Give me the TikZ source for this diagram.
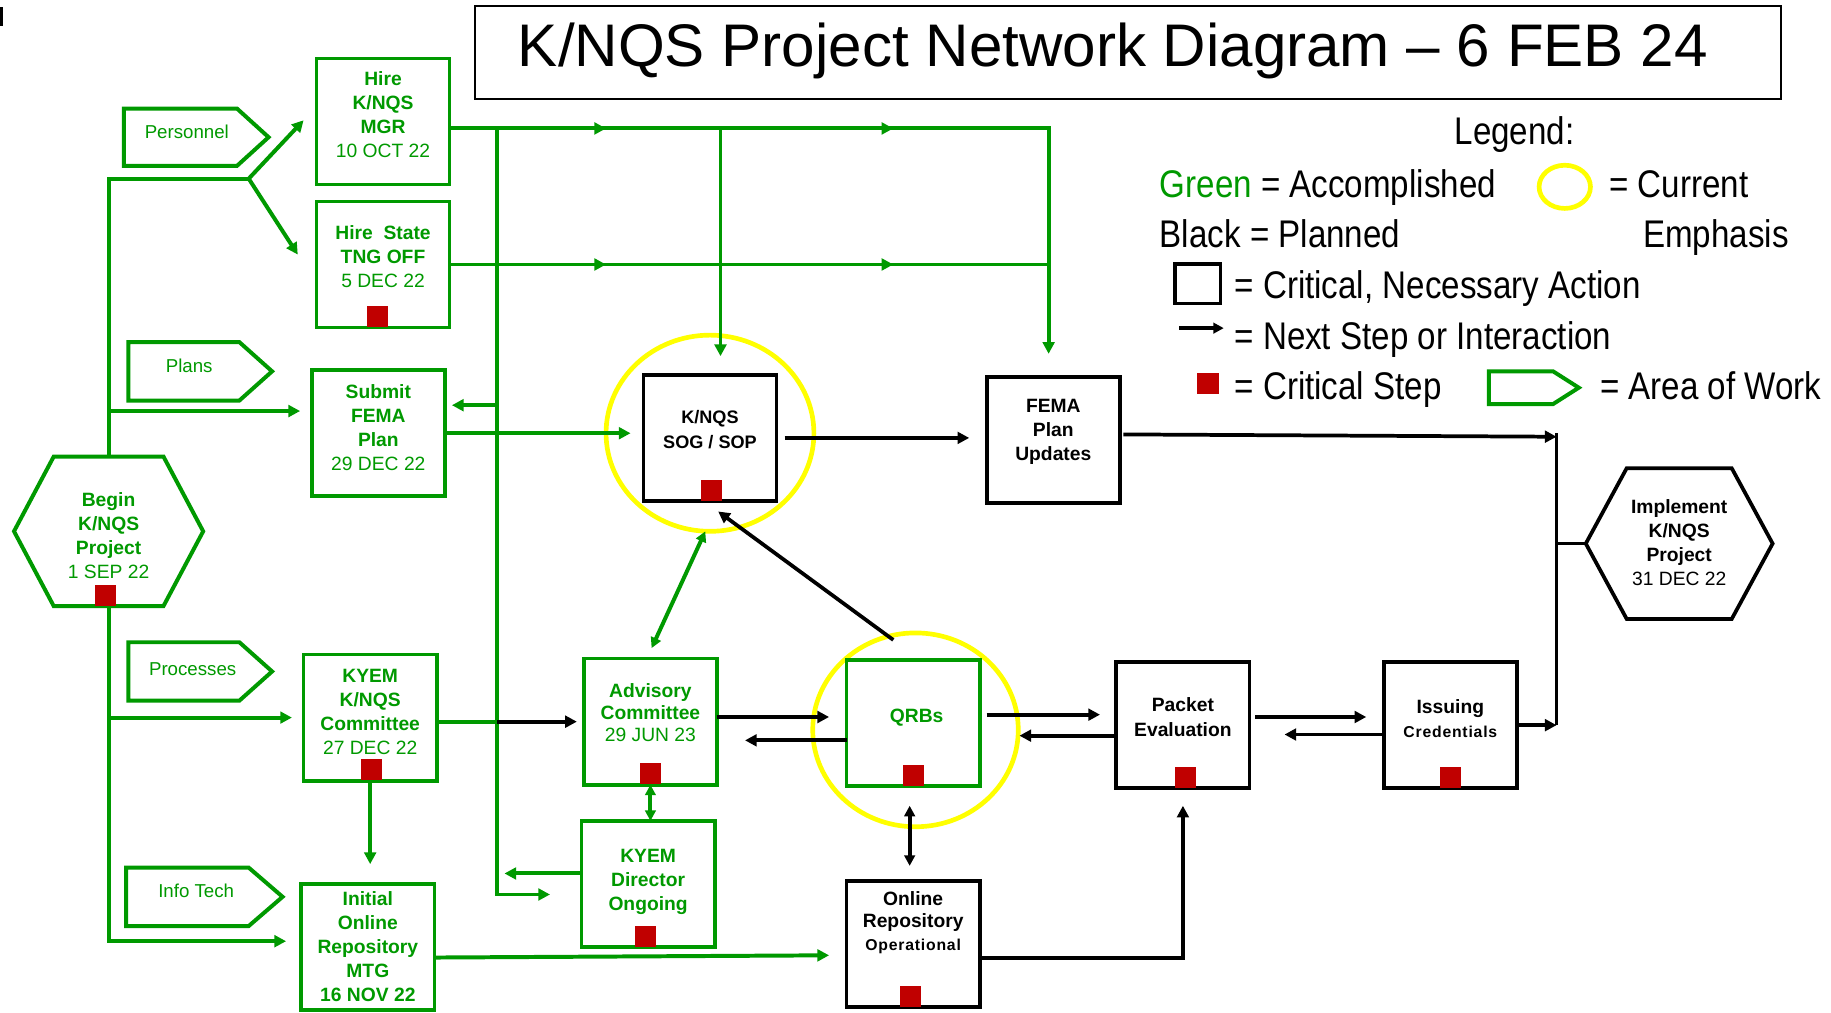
\documentclass[tikz,border=0pt]{standalone}
\usepackage{fontspec}
\setmainfont{Liberation Sans}
\newfontfamily\legfont[FakeStretch=0.86]{Liberation Sans}
\usetikzlibrary{arrows.meta,calc,shapes.geometric,decorations.markings}
\definecolor{gr}{RGB}{0,153,0}
\definecolor{rd}{RGB}{192,0,0}
\definecolor{yl}{RGB}{255,255,0}
\newcommand\pentpath[2]{\draw[gl] (#1.north west) -- ([xshift=-#2pt]#1.north east) -- (#1.east) -- ([xshift=-#2pt]#1.south east) -- (#1.south west) -- cycle;}
\newcommand\hexpath[3]{\draw[#3] (#1.west) -- ([xshift=#2pt]#1.north west) -- ([xshift=-#2pt]#1.north east) -- (#1.east) -- ([xshift=-#2pt]#1.south east) -- ([xshift=#2pt]#1.south west) -- cycle;}
\begin{document}
\begin{tikzpicture}[x=1pt,y=-1pt,
  gl/.style={gr,line width=3.4pt},
  bl/.style={black,line width=3.2pt},
  tip/.style={-{Triangle[length=10pt,width=10pt]}},
  dtip/.style={{Triangle[length=9pt,width=9pt]}-{Triangle[length=9pt,width=9pt]}},
  box/.style={line width=3.2pt,minimum width=114pt,minimum height=108pt,inner sep=0pt,outer sep=0pt},
  gbox/.style={box,draw=gr},
  bbox/.style={box,draw=black},
  crit/.style={fill=rd,minimum width=18pt,minimum height=18pt,inner sep=0pt,anchor=south},
  btxt/.style={align=center,inner sep=0pt,font=\fontsize{16.5}{20.5}\selectfont\bfseries},
  gtxt/.style={btxt,text=gr},
  atxt/.style={inner sep=0pt,text=gr,font=\fontsize{16}{19}\selectfont},
  leg/.style={inner sep=0pt,anchor=base west,font=\legfont\fontsize{33}{38}\selectfont},
  emph/.style={draw=yl,line width=4pt,ellipse,inner sep=0pt},
  hold/.style={inner sep=0pt,outer sep=0pt},
  mtwo/.style n args={2}{postaction={decorate},decoration={markings,
     mark=at position #1 with {\arrow{Triangle[length=10pt,width=10pt]}},
     mark=at position #2 with {\arrow{Triangle[length=10pt,width=10pt]}}}},
]
\fill[white] (0,0) rectangle (1568,867);
\useasboundingbox (0,0) rectangle (1568,867);
\fill[black] (0,6) rectangle (2.5,22);

% title
\node[draw,line width=1.5pt,minimum width=1118pt,minimum height=80pt,inner sep=0pt] (tbox) at (966,45) {};
\node[anchor=base,inner sep=0pt,font=\fontsize{51.5}{60}\selectfont] (title) at (953,57) {K/NQS Project Network Diagram – 6 FEB 24};

% legend
\node[leg,anchor=base] (lg0) at (1297,124) {Legend:};
\node[leg] (lg1) at (993,169) {\textcolor{gr}{Green} = Accomplished};
\node[emph,minimum width=44pt,minimum height=37pt] (lcirc) at (1340,160) {};
\node[leg] (lg2) at (1378,169) {= Current};
\node[leg] (lg3) at (993,212) {Black = Planned};
\node[leg] (lg4) at (1407,212) {Emphasis};
\node[draw,line width=3pt,minimum width=39pt,minimum height=34pt,inner sep=0pt] (lsq) at (1025.5,243) {};
\node[leg] (lg5) at (1057,256) {= Critical, Necessary Action};
\coordinate (la1) at (1010,281);
\coordinate (la2) at (1048,281);
\draw[bl,-{Triangle[length=9pt,width=9pt]}] (la1) -- (la2);
\node[leg] (lg6) at (1057,299) {= Next Step or Interaction};
\node[fill=rd,minimum width=19pt,minimum height=18pt,inner sep=0pt] (lred) at (1034.5,328) {};
\node[leg] (lg7) at (1057,342) {= Critical Step};
\node[hold,minimum width=77pt,minimum height=28pt] (lpent) at (1313.5,332) {};
\pentpath{lpent}{22}
\node[leg] (lg8) at (1370,342) {= Area of Work};

% yellow emphasis
\node[emph,minimum width=178pt,minimum height=168pt] (emA) at (608,371) {};
\node[emph,minimum width=176pt,minimum height=166pt] (emB) at (784,625) {};

% areas of work
\node[hold,minimum width=124pt,minimum height=49pt] (pers) at (168,117.5) {};
\pentpath{pers}{27}
\node[atxt] (persT) at (160,113) {Personnel};
\node[hold,minimum width=123pt,minimum height=50pt] (plans) at (171.5,318) {};
\pentpath{plans}{28}
\node[atxt] (plansT) at (162,313) {Plans};
\node[hold,minimum width=123pt,minimum height=50pt] (procs) at (171.5,575) {};
\pentpath{procs}{28}
\node[atxt] (procsT) at (165,573) {Processes};
\node[hold,minimum width=134pt,minimum height=50pt] (itech) at (175,768) {};
\pentpath{itech}{29}
\node[atxt] (itechT) at (168,763) {Info Tech};

% boxes
\node[gbox] (hmgr) at (328,104) {};
\node[gbox] (hstate) at (328,226.5) {};
\node[gbox] (submit) at (324,371) {};
\node[gbox] (kyemc) at (317,614.5) {};
\node[gbox] (initial) at (315,811) {};
\node[gbox] (advis) at (557,618) {};
\node[gbox] (kdir) at (555,757) {};
\node[bbox] (sog) at (608,375) {};
\node[bbox] (fema) at (902,377) {};
\node[gbox] (qrbs) at (782,619) {};
\node[bbox] (packet) at (1013,621) {};
\node[bbox] (issuing) at (1242,621) {};
\node[bbox] (onlrep) at (782,808.5) {};
\node[hold,minimum width=162pt,minimum height=128pt] (begin) at (93,455) {};
\hexpath{begin}{34}{gl}
\node[hold,minimum width=160pt,minimum height=129pt] (impl) at (1438,465.5) {};
\hexpath{impl}{35}{bl}

% box texts
\node[gtxt] (hmgrT) at (328,98) {Hire\\K/NQS\\MGR\\{\mdseries 10 OCT 22}};
\node[gtxt] (hstateT) at (328,219.5) {Hire~~State\\TNG OFF\\{\mdseries 5 DEC 22}};
\node[gtxt] (submitT) at (324,366) {Submit\\FEMA\\Plan\\{\mdseries 29 DEC 22}};
\node[gtxt] (beginT) at (93,459) {Begin\\K/NQS\\Project\\{\mdseries 1 SEP 22}};
\node[gtxt] (kyemcT) at (317,610) {KYEM\\K/NQS\\Committee\\{\mdseries 27 DEC 22}};
\node[gtxt] (initialT) at (315,810.5) {Initial\\Online\\Repository\\MTG\\16 NOV 22};
\node[gtxt,font=\fontsize{16.5}{19}\selectfont\bfseries] (advisT) at (557,610) {Advisory\\Committee\\{\mdseries 29 JUN 23}};
\node[gtxt] (kdirT) at (555,755) {KYEM\\Director\\Ongoing};
\node[btxt,font=\fontsize{15.5}{22}\selectfont\bfseries] (sogT) at (608,368) {K/NQS\\SOG / SOP};
\node[btxt] (femaT) at (902,369.5) {FEMA\\Plan\\Updates};
\node[gtxt] (qrbsT) at (785,615) {QRBs};
\node[btxt,font=\fontsize{16.5}{22}\selectfont\bfseries] (packetT) at (1013,614) {Packet\\Evaluation};
\node[btxt,font=\fontsize{16.5}{21}\selectfont\bfseries] (issuingT) at (1242,615.5) {Issuing\\{\fontsize{13.5}{16}\selectfont\addfontfeature{LetterSpace=5}Credentials}};
\node[btxt,font=\fontsize{16.5}{19}\selectfont\bfseries] (onlrepT) at (782,790) {Online\\Repository\\{\fontsize{13.5}{16}\selectfont\addfontfeature{LetterSpace=5}Operational}};
\node[btxt] (implT) at (1438,465) {Implement\\K/NQS\\Project\\{\mdseries 31 DEC 22}};

% critical steps
\node[crit] (hstateR) at ([xshift=-4.5pt]hstate.south) {};
\node[crit] (beginR) at ([xshift=-2.5pt]begin.south) {};
\node[crit] (kyemcR) at ([xshift=1pt]kyemc.south) {};
\node[crit] (advisR) at (advis.south) {};
\node[crit] (kdirR) at ([xshift=-2pt]kdir.south) {};
\node[crit] (sogR) at ([xshift=1pt]sog.south) {};
\node[crit] (qrbsR) at (qrbs.south) {};
\node[crit] (packetR) at ([xshift=2pt]packet.south) {};
\node[crit] (issuingR) at (issuing.south) {};
\node[crit] (onlrepR) at ([xshift=-2pt]onlrep.south) {};

% green connectors
\coordinate (jP) at (213,153);
\coordinate (tM) at (260,103);
\coordinate (tS) at (255,218);
\draw[gl] (begin.north) -- (begin.north |- jP) -- (jP);
\draw[gl,tip] (jP) -- (tM);
\draw[gl,tip] (jP) -- (tS);
\coordinate (pB) at (93,352);
\draw[gl,tip,shorten >=10pt] (pB) -- (pB -| submit.west);
\coordinate (bB) at (93,806);
\coordinate (bK) at (93,614.5);
\draw[gl,tip,shorten >=13pt] (begin.south) -- (bB) -- (bB -| initial.west);
\draw[gl,tip,shorten >=10pt] (bK) -- (kyemc.west);

\coordinate (c1) at (898,110);
\coordinate (fT) at (898,303);
\draw[gl,tip,mtwo={134pt}{380pt}] (hmgr.east |- c1) -- (c1) -- (fT);
\draw[gl,mtwo={134pt}{380pt}] (hstate.east) -- (hstate.east -| c1);
\coordinate (sT) at (617,305);
\draw[gl,tip] (sT |- c1) -- (sT);
\coordinate (v1) at (426,110);
\coordinate (v2) at (426,766);
\coordinate (v3) at (426,347);
\draw[gl,tip,shorten >=27pt] (v1) -- (v2) -- (v2 -| kdir.west);
\draw[gl,tip,shorten >=6pt] (v3) -- (v3 -| submit.east);
\coordinate (kdw) at ($(kdir.west)+(0,-9)$);
\draw[gl,tip,shorten >=6pt] (kdw) -- (kdw -| v1);
\draw[gl,tip,shorten >=11pt] (submit.east) -- (submit.east -| sog.west);
\coordinate (kv) at (426,618);
\draw[gl] (kyemc.east |- kv) -- (kv);
\draw[bl,tip,shorten >=6pt] (kv) -- (kv -| advis.west);
\draw[gl,tip,shorten >=17pt] (kyemc.south) -- (kyemc.south |- initial.north);
\draw[gl,dtip] (advis.south) -- (advis.south |- kdir.north);
\draw[gl,dtip] ($(sog.south)+(-4,26)$) -- ($(advis.north)+(1,-9)$);
\draw[gl,tip,shorten >=15pt] ($(initial.east)+(0,9)$) -- ($(onlrep.west)+(0,9.5)$);

% black connectors
\draw[bl,tip,shorten <=7pt,shorten >=15pt] (sog.east) -- (sog.east -| fema.west);
\coordinate (vr0) at (1333,371);
\coordinate (vr1) at (1333,374);
\coordinate (vr2) at (1333,621);
\draw[bl,tip,shorten <=3pt] ($(fema.east)+(0,-5)$) -- (vr1);
\draw[bl] (vr0) -- (vr2);
\draw[bl,tip] (issuing.east) -- (issuing.east -| vr2);
\draw[bl] (impl.west -| vr1) -- (impl.west);
\draw[bl,tip] ($(qrbs.north)+(-17,-17)$) -- ($(sog.south)+(7,9)$);
\draw[bl,tip,shorten >=15pt] ($(advis.east)+(0,-4)$) -- ($(qrbs.west)+(0,-5)$);
\draw[bl,tip,shorten >=24pt] ($(qrbs.west)+(0,15)$) -- ($(advis.east)+(0,16)$);
\draw[bl,tip,shorten <=6pt,shorten >=14pt] ($(qrbs.east)+(0,-7)$) -- ($(packet.west)+(0,-9)$);
\draw[bl,tip,shorten >=34pt] ($(packet.west)+(0,9)$) -- ($(qrbs.east)+(0,11)$);
\draw[bl,tip,shorten <=5pt,shorten >=15pt] ($(packet.east)+(0,-7)$) -- ($(issuing.west)+(0,-7)$);
\draw[bl,tip,shorten >=30pt] ($(issuing.west)+(0,8)$) -- ($(packet.east)+(0,8)$);
\draw[bl,dtip,shorten <=17pt,shorten >=13pt] ($(qrbs.south)+(-3,0)$) -- ($(onlrep.north)+(-3,0)$);
\draw[bl,tip,shorten >=15pt] ($(onlrep.east)+(0,12)$) -| (packet.south);
\end{tikzpicture}
\end{document}
